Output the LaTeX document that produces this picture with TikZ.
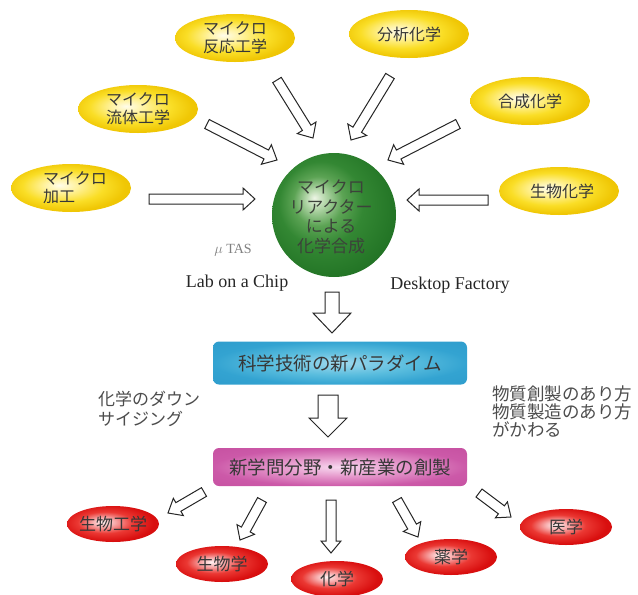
\documentclass[tikz,border=0pt]{standalone}
\usepackage{fontspec}
\setmainfont{Liberation Serif}
\newfontfamily\jp{Noto Sans CJK JP}
\usetikzlibrary{shapes.geometric,calc}

\definecolor{txtgray}{RGB}{55,55,55}
\definecolor{sphtxt}{RGB}{60,66,58}

\pgfdeclareradialshading{yelshade}{\pgfpoint{-5bp}{3bp}}{rgb(0bp)=(1,0.99,0.92); rgb(7bp)=(1,0.95,0.62); rgb(17bp)=(0.98,0.87,0.15); rgb(25bp)=(0.94,0.78,0.02); rgb(50bp)=(0.9,0.72,0)}
\pgfdeclareradialshading{redshade}{\pgfpoint{-6bp}{3bp}}{rgb(0bp)=(1,0.95,0.95); rgb(6bp)=(0.97,0.68,0.68); rgb(15bp)=(0.92,0.22,0.2); rgb(25bp)=(0.85,0.06,0.06); rgb(50bp)=(0.78,0.03,0.03)}
\pgfdeclareradialshading{grnshade}{\pgfpoint{-8bp}{7bp}}{rgb(0bp)=(0.93,0.96,0.9); rgb(4bp)=(0.7,0.84,0.66); rgb(10bp)=(0.36,0.64,0.33); rgb(17bp)=(0.2,0.53,0.2); rgb(28bp)=(0.14,0.46,0.15); rgb(37bp)=(0.1,0.38,0.12); rgb(50bp)=(0.1,0.38,0.12)}
\pgfdeclareradialshading{blushade}{\pgfpoint{0bp}{0bp}}{rgb(0bp)=(0.62,0.85,0.93); rgb(14bp)=(0.35,0.74,0.87); rgb(25bp)=(0.2,0.64,0.82); rgb(50bp)=(0.16,0.58,0.78)}
\pgfdeclareradialshading{pnkshade}{\pgfpoint{0bp}{0bp}}{rgb(0bp)=(0.97,0.85,0.94); rgb(12bp)=(0.9,0.6,0.8); rgb(25bp)=(0.8,0.35,0.66); rgb(50bp)=(0.75,0.28,0.6)}

\newcommand\blockarr[5]{%
  \coordinate (bh) at ($(#2)!#5!(#1)$);
  \draw[barrow] ($(#1)!#3!90:(#2)$) -- ($(bh)!#3!90:(#2)$) -- ($(bh)!#4!90:(#2)$) -- (#2)
    -- ($(bh)!#4!-90:(#2)$) -- ($(bh)!#3!-90:(#2)$) -- ($(#1)!#3!-90:(#2)$) -- cycle;}

\begin{document}
\begin{tikzpicture}[x=1pt,y=-1pt,
  yel/.style={ellipse, minimum width=120pt, minimum height=48pt, inner sep=0pt, shade, shading=yelshade},
  redel/.style={ellipse, minimum width=92pt, minimum height=36pt, inner sep=0pt, shade, shading=redshade},
  sph/.style={circle, minimum size=124pt, inner sep=0pt, shade, shading=grnshade},
  jt/.style={font={\jp\fontsize{16}{18}\selectfont}, text=txtgray, align=center, inner sep=0pt},
  bigjt/.style={font={\jp\fontsize{18.5}{20}\selectfont}, text=txtgray},
  boxb/.style={rectangle, rounded corners=6pt, minimum width=254pt, minimum height=43pt, inner sep=0pt, shade, shading=blushade},
  boxp/.style={rectangle, rounded corners=6pt, minimum width=254pt, minimum height=38pt, inner sep=0pt, shade, shading=pnkshade},
  lat/.style={font={\fontsize{18}{20}\selectfont}, text=black!85, inner sep=0pt},
  barrow/.style={draw=black!85, fill=white, line width=1pt, line join=miter}
]
\useasboundingbox (0,0) rectangle (638,595);

% yellow ellipses
\node[yel] (y1) at (235,38) {};
\node[jt] (y1t) at (y1) {マイクロ\\反応工学};
\node[yel] (y2) at (409,34) {};
\node[jt] (y2t) at (y2) {分析化学};
\node[yel] (y3) at (138,109) {};
\node[jt] (y3t) at (y3) {マイクロ\\流体工学};
\node[yel] (y4) at (530,101) {};
\node[jt] (y4t) at (y4) {合成化学};
\node[yel] (y5) at (71,188) {};
\node[jt, align=left] (y5t) at (75,188) {マイクロ\\加工};
\node[yel] (y6) at (559,191) {};
\node[jt] (y6t) at (562,191) {生物化学};

% sphere
\node[sph] (s) at (334,215) {};
\node[jt, font={\jp\fontsize{17}{19.5}\selectfont}, text=sphtxt] (st) at (331,217) {マイクロ\\リアクター\\による\\化学合成};

% labels around sphere
\node[inner sep=0pt, text=black!50, font={\fontsize{14}{16}\selectfont}] (mu) at (233,250) {$\mu$ TAS};
\node[lat] (lab) at (237,283) {Lab on a Chip};
\node[lat] (dk) at (450,285) {Desktop Factory};

% boxes
\node[boxb] (bx) at (340,363) {};
\node[bigjt] (bxt) at (bx) {科学技術の新パラダイム};
\node[boxp] (px) at (340,467) {};
\node[bigjt] (pxt) at (px) {新学問分野・新産業の創製};

% side texts
\node[jt, font={\jp\fontsize{17}{20}\selectfont}, text=black!70, align=left, anchor=north west] (lt) at (98,391) {化学のダウン\\サイジング};
\node[jt, font={\jp\fontsize{17.5}{18}\selectfont}, text=black!70, align=left, anchor=north west] (rt) at (492,386) {物質創製のあり方\\物質製造のあり方\\がかわる};

% red ellipses
\node[redel] (r1) at (113,524) {};
\node[jt, font={\jp\fontsize{17}{19}\selectfont}] (r1t) at (r1) {生物工学};
\node[redel] (r2) at (222,564) {};
\node[jt, font={\jp\fontsize{17}{19}\selectfont}] (r2t) at (r2) {生物学};
\node[redel] (r3) at (337,579) {};
\node[jt, font={\jp\fontsize{17}{19}\selectfont}] (r3t) at (r3) {化学};
\node[redel] (r4) at (451,557) {};
\node[jt, font={\jp\fontsize{17}{19}\selectfont}] (r4t) at (r4) {薬学};
\node[redel] (r5) at (566,527) {};
\node[jt, font={\jp\fontsize{17}{19}\selectfont}] (r5t) at (r5) {医学};

% arrow end coordinates
\coordinate (t1) at (207,124); \coordinate (h1) at (277,160);
\coordinate (t2) at (277,80);  \coordinate (h2) at (313,138);
\coordinate (t3) at (390,76);  \coordinate (h3) at (351,140);
\coordinate (t4) at (458,124); \coordinate (h4) at (388,160);
\coordinate (t5) at (149,199); \coordinate (h5) at (255,199);
\coordinate (t6) at (488,200); \coordinate (h6) at (407,200);
\coordinate (td1) at (332,292); \coordinate (hd1) at (332,333);
\coordinate (td2) at (328,395); \coordinate (hd2) at (328,437);
\coordinate (tb1) at (204,492); \coordinate (hb1) at (168,513);
\coordinate (tb2) at (262,500); \coordinate (hb2) at (240,540);
\coordinate (tb3) at (331,500); \coordinate (hb3) at (331,553);
\coordinate (tb4) at (397,500); \coordinate (hb4) at (418,537);
\coordinate (tb5) at (479,493); \coordinate (hb5) at (511,517);

\blockarr{t1}{h1}{5pt}{11pt}{12pt}
\blockarr{t2}{h2}{5pt}{11pt}{12pt}
\blockarr{t3}{h3}{5pt}{11pt}{12pt}
\blockarr{t4}{h4}{5pt}{11pt}{12pt}
\blockarr{t5}{h5}{5pt}{11pt}{12pt}
\blockarr{t6}{h6}{5pt}{11pt}{12pt}
\blockarr{td1}{hd1}{7pt}{19pt}{20pt}
\blockarr{td2}{hd2}{10pt}{19pt}{19pt}
\blockarr{tb1}{hb1}{5pt}{10pt}{12pt}
\blockarr{tb2}{hb2}{5pt}{10pt}{12pt}
\blockarr{tb3}{hb3}{5pt}{10pt}{12pt}
\blockarr{tb4}{hb4}{5pt}{10pt}{12pt}
\blockarr{tb5}{hb5}{5pt}{10pt}{12pt}
\end{tikzpicture}
\end{document}
